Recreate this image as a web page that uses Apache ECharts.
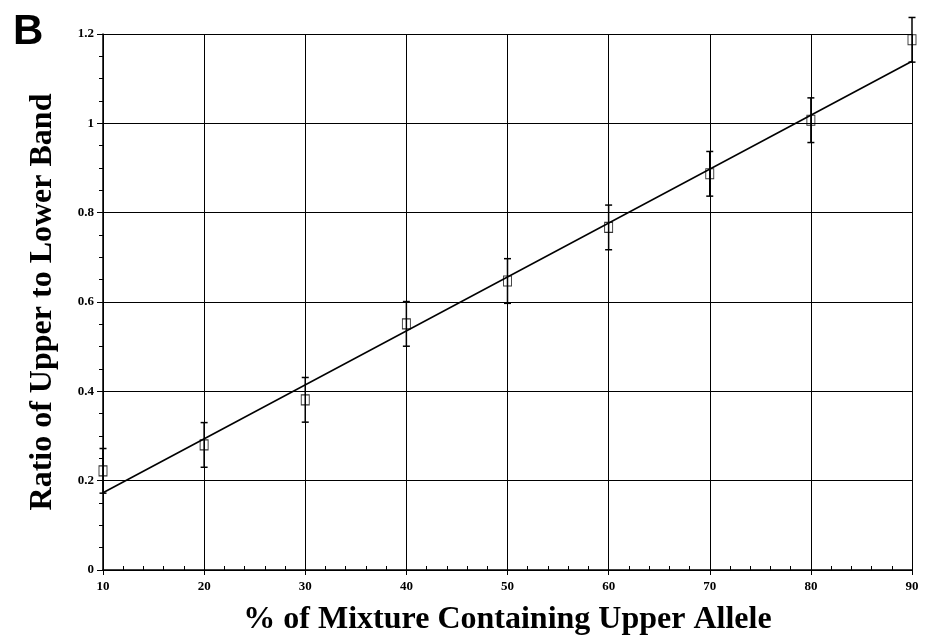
<!DOCTYPE html>
<html>
<head>
<meta charset="utf-8">
<script src="https://cdn.jsdelivr.net/npm/echarts@6/dist/echarts.min.js"></script>
<style>
html,body{margin:0;padding:0;background:#fff;}
#chart{width:926px;height:641px;}
</style>
</head>
<body>
<div id="chart"></div>
<script>
// Data
const percentUpper = [10, 20, 30, 40, 50, 60, 70, 80, 90];
const ratioMean    = [0.222, 0.28, 0.381, 0.551, 0.647, 0.767, 0.887, 1.007, 1.187];
const ratioErr     = [0.05, 0.05, 0.05, 0.05, 0.05, 0.05, 0.05, 0.05, 0.05];
const fitX = [10, 90];
const fitY = [0.173, 1.139];

const serif = '"Liberation Serif","DejaVu Serif",serif';

const chart = echarts.init(document.getElementById('chart'));
const pts = percentUpper.map((x, i) => [x, ratioMean[i]]);
const errs = percentUpper.map((x, i) => [x, ratioMean[i] - ratioErr[i], ratioMean[i] + ratioErr[i]]);
const fit = fitX.map((x, i) => [x, fitY[i]]);

chart.setOption({
  animation: false,
  backgroundColor: '#fff',
  graphic: [{
    type: 'text', left: 13, top: 11,
    style: { text: 'B', font: 'bold 42px "Liberation Sans", Arial, sans-serif', fill: '#000' }
  }],
  grid: { left: 103, right: 14, top: 34, bottom: 71, containLabel: false, outerBoundsMode: 'none' },
  xAxis: {
    type: 'value', min: 10, max: 90, interval: 10,
    name: '% of Mixture Containing Upper Allele',
    nameLocation: 'middle', nameGap: 34,
    nameTextStyle: { fontFamily: serif, fontWeight: 'bold', fontSize: 32, color: '#000' },
    axisLine: { lineStyle: { color: '#000', width: 1.5 } },
    axisTick: { show: true, length: 5, lineStyle: { color: '#000' } },
    minorTick: { show: true, splitNumber: 5, length: -4, lineStyle: { color: '#000' } },
    axisLabel: { fontFamily: serif, fontWeight: 'bold', fontSize: 13, color: '#000', margin: 10 },
    splitLine: { show: true, lineStyle: { color: '#000', width: 1 } }
  },
  yAxis: {
    type: 'value', min: 0, max: 1.2, interval: 0.2,
    name: 'Ratio of Upper to Lower Band',
    nameLocation: 'middle', nameGap: 44,
    nameTextStyle: { fontFamily: serif, fontWeight: 'bold', fontSize: 32, color: '#000' },
    axisLine: { show: true, lineStyle: { color: '#000', width: 1.5 } },
    axisTick: { show: true, length: 6, lineStyle: { color: '#000' } },
    minorTick: { show: true, splitNumber: 4, length: 4, lineStyle: { color: '#000' } },
    axisLabel: { fontFamily: serif, fontWeight: 'bold', fontSize: 13, color: '#000', margin: 9 },
    splitLine: { show: true, lineStyle: { color: '#000', width: 1 } }
  },
  series: [
    {
      type: 'line', data: fit, showSymbol: false, symbol: 'none',
      lineStyle: { color: '#000', width: 1.5 }, z: 3
    },
    {
      type: 'custom', data: errs, z: 4,
      renderItem: function (params, api) {
        const x = api.value(0);
        const lo = api.coord([x, api.value(1)]);
        const hi = api.coord([x, api.value(2)]);
        const cap = 3.5;
        const st = { stroke: '#000', lineWidth: 1.5 };
        return {
          type: 'group',
          children: [
            { type: 'line', shape: { x1: lo[0], y1: lo[1], x2: hi[0], y2: hi[1] }, style: st },
            { type: 'line', shape: { x1: lo[0] - cap, y1: lo[1], x2: lo[0] + cap, y2: lo[1] }, style: st },
            { type: 'line', shape: { x1: hi[0] - cap, y1: hi[1], x2: hi[0] + cap, y2: hi[1] }, style: st }
          ]
        };
      }
    },
    {
      type: 'scatter', data: pts, symbol: 'rect', symbolSize: [8, 10], z: 5,
      itemStyle: { color: 'rgba(255,255,255,0)', borderColor: '#000', borderWidth: 1 }
    }
  ]
});
</script>
</body>
</html>
